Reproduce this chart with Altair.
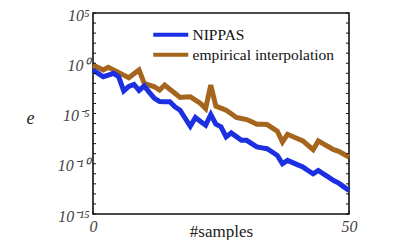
import altair as alt
import pandas as pd

# ---- data ----
samples = list(range(51))
nippas_log10 = [-0.67, -1.0, -1.34, -1.17, -1.0, -1.33, -2.75, -2.3, -2.1, -2.7,
                -2.25, -2.9, -3.5, -3.8, -3.82, -3.83, -4.33, -4.67, -5.47, -6.27,
                -5.4, -5.8, -6.17, -5.1, -6.07, -6.33, -7.33, -6.93, -7.3, -7.67,
                -7.67, -8.0, -8.33, -8.42, -8.5, -8.83, -9.17, -10.0, -9.67, -9.89,
                -10.11, -10.33, -10.67, -11.0, -10.67, -11.0, -11.33, -11.67, -11.93, -12.3,
                -12.67]
empirical_log10 = [-0.17, -0.42, -0.67, -0.4, -0.66, -0.92, -1.18, -1.44, -1.05, -0.67,
                   -2.0, -2.17, -2.34, -2.67, -2.17, -2.58, -2.99, -3.4, -3.37, -3.33,
                   -3.67, -4.0, -4.5, -2.17, -4.27, -4.47, -4.67, -5.03, -5.4, -5.5,
                   -5.6, -5.83, -6.07, -6.08, -6.1, -6.43, -6.77, -7.83, -7.07, -7.29,
                   -7.51, -7.73, -8.17, -8.6, -7.73, -8.02, -8.31, -8.6, -8.77, -9.05,
                   -9.33]
series_names = ["NIPPAS", "empirical interpolation"]
series_colors = ["#1c30e2", "#a5651d"]
y_decades = list(range(-15, 6))
y_label_exps = [5, 0, -5, -10, -15]
x_ticks = [0, 50]

rows = []
for name, vals in zip(series_names, [nippas_log10, empirical_log10]):
    for s, v in zip(samples, vals):
        rows.append({"samples": s, "e": 10.0 ** v, "series": name})
df = pd.DataFrame(rows)
dec_df = pd.DataFrame({"v": [10.0 ** k for k in y_decades]})
xt_df = pd.DataFrame({"s": x_ticks})

W, H = 256, 201
SERIF = "Liberation Serif"

sup_map = str.maketrans("-0123456789", "⁻⁰¹²³⁴⁵⁶⁷⁸⁹")
exp_expr = "round(log(datum.value)/LN10)"
label_expr = " : ".join(
    f"({exp_expr} == {k}) ? '10{str(k).translate(sup_map)}'" for k in y_label_exps
) + " : ''"

yscale = alt.Scale(type="log", domain=[1e-15, 1e5], nice=False)
xscale = alt.Scale(domain=[0, 50], nice=False, zero=False)

color = alt.Color(
    "series:N",
    scale=alt.Scale(domain=series_names, range=series_colors),
    legend=alt.Legend(
        title=None, orient="none", legendX=70, legendY=14,
        symbolType="M-5,0L5,0", symbolSize=49, symbolStrokeWidth=4,
        labelFont=SERIF, labelFontSize=15.5, labelColor="#111",
        labelOffset=14, rowPadding=2, padding=0,
    ),
)

xaxis = alt.Axis(values=x_ticks, title="#samples", titleFont=SERIF, titleFontSize=17,
                 titleFontWeight="normal", titleColor="#222", titleY=22,
                 titleBaseline="alphabetic",
                 labelFont=SERIF, labelFontStyle="italic", labelFontSize=16,
                 labelColor="#444", labelPadding=4, labelFlush=False,
                 ticks=False, tickSize=0, domain=False, grid=False)
yaxis = alt.Axis(values=[10.0 ** k for k in y_label_exps], labelExpr=label_expr,
                 title="e", titleFont=SERIF, titleFontStyle="italic", titleFontSize=18,
                 titleFontWeight="normal", titleColor="#222", titleAngle=0,
                 titleX=-63, titleY=105, titleAlign="center", titleBaseline="middle",
                 labelFont=SERIF, labelFontStyle="italic", labelFontSize=16,
                 labelColor="#444", labelPadding=4, labelOffset=2, labelFlush=False,
                 ticks=False, tickSize=0, domain=False, grid=False)

base = alt.Chart(df)
brown = base.transform_filter(alt.datum.series == series_names[1]).mark_line(
    strokeWidth=5, strokeJoin="miter").encode(
    x=alt.X("samples:Q", scale=xscale, axis=xaxis),
    y=alt.Y("e:Q", scale=yscale, axis=yaxis),
    color=color,
)
blue = base.transform_filter(alt.datum.series == series_names[0]).mark_line(
    strokeWidth=5, strokeJoin="miter").encode(
    x=alt.X("samples:Q", scale=xscale),
    y=alt.Y("e:Q", scale=yscale),
    color=color,
)

left_ticks = alt.Chart(dec_df).mark_rule(color="#111", strokeWidth=1).encode(
    y=alt.Y("v:Q", scale=yscale), x=alt.value(0), x2=alt.value(3))
right_ticks = alt.Chart(dec_df).mark_rule(color="#111", strokeWidth=1).encode(
    y=alt.Y("v:Q", scale=yscale), x=alt.value(W - 3), x2=alt.value(W))
bottom_ticks = alt.Chart(xt_df).mark_rule(color="#111", strokeWidth=1).encode(
    x=alt.X("s:Q", scale=xscale), y=alt.value(H - 3), y2=alt.value(H))

chart = alt.layer(brown, blue, left_ticks, right_ticks, bottom_ticks).properties(
    width=W, height=H,
    autosize=alt.AutoSizeParams(type="none"),
    padding={"left": 85, "top": 5, "right": 58, "bottom": 26},
).configure_view(stroke="#111", strokeWidth=1.6)

chart.save("out.html", embed_options={"renderer": "svg", "actions": False})
